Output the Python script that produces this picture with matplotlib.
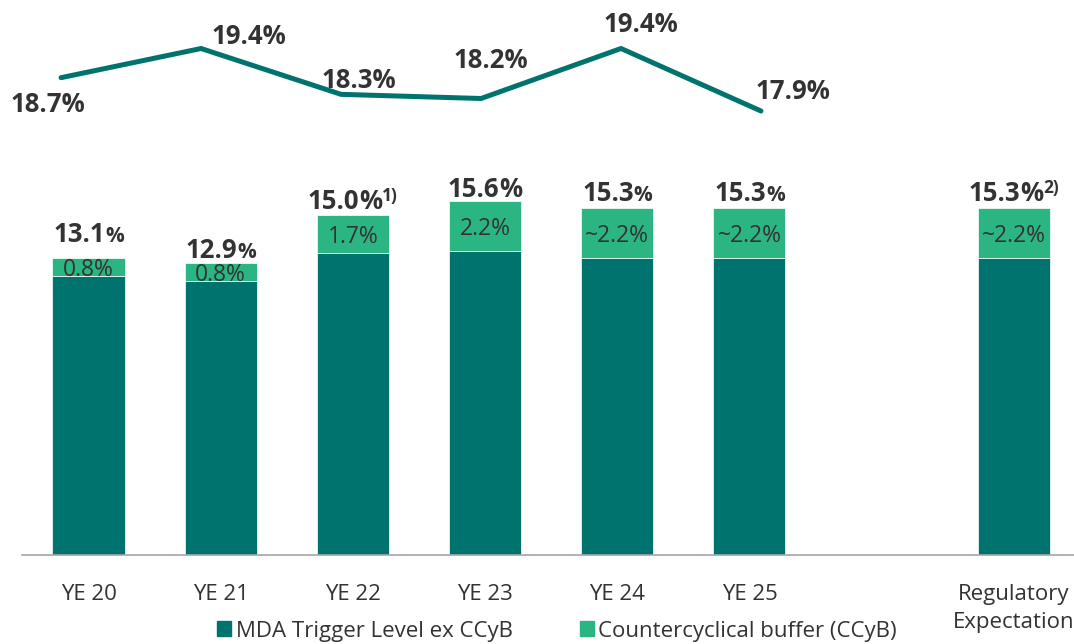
import numpy as np
import matplotlib
matplotlib.use("Agg")
import matplotlib.pyplot as plt
import matplotlib.transforms as mtransforms
from matplotlib.patches import Patch

plt.rcParams['font.family'] = ['Open Sans', 'DejaVu Sans']

# data
categories = ["YE 20", "YE 21", "YE 22", "YE 23", "YE 24", "YE 25", "Regulatory\nExpectation"]
bar_pos = [0, 1, 2, 3, 4, 5, 7]
mda_ex_ccyb = [12.3, 12.1, 13.3, 13.4, 13.1, 13.1, 13.1]
ccyb = [0.8, 0.8, 1.7, 2.2, 2.2, 2.2, 2.2]
ccyb_labels = ["0.8%", "0.8%", "1.7%", "2.2%", "~2.2%", "~2.2%", "~2.2%"]
total_labels = ["13.1", "12.9", "15.0", "15.6", "15.3", "15.3", "15.3"]
small_pct = [True, True, False, False, True, True, False]
footnotes = ["", "", "1)", "", "", "", "2)"]

line_years = ["YE 20", "YE 21", "YE 22", "YE 23", "YE 24", "YE 25"]
line_values = [18.7, 19.4, 18.3, 18.2, 19.4, 17.9]

# colours
teal = "#00736F"
green = "#2BB583"
txt = "#333333"

# label nudges (pixels)
total_pad = [16, 5, 6, 4, 7, 7, 7]
line_offsets = [(-13, -27), (48, 12), (18, 14), (10, 38), (20, 24), (32, 20)]

fig = plt.figure(figsize=(10.74, 6.44), dpi=100)
rect = [22 / 1074, 89 / 644, 1052 / 1074, 555 / 644]
ax = fig.add_axes(rect)

ax.bar(bar_pos, mda_ex_ccyb, width=0.545, color=teal, edgecolor="white", linewidth=0.5)
ax.bar(bar_pos, ccyb, bottom=mda_ex_ccyb, width=0.545, color=green, edgecolor="white", linewidth=0.5)

ax.set_xlim(-0.503, 7.455)
ax.set_ylim(0, 555 / 22.67)
for s in ["top", "right", "left"]:
    ax.spines[s].set_visible(False)
ax.spines["bottom"].set_color("#A6A6A6")
ax.spines["bottom"].set_linewidth(1.2)
ax.set_yticks([])
ax.set_xticks(bar_pos)
ax.set_xticklabels(categories, fontsize=16, color=txt, linespacing=1.45)
ax.tick_params(axis="x", length=0, pad=21)

# labels inside the buffer segment
for x, b, c, lab in zip(bar_pos, mda_ex_ccyb, ccyb, ccyb_labels):
    ax.annotate(lab, (x, b + c / 2), xytext=(0, -3), textcoords="offset pixels",
                ha="center", va="center", fontsize=16.5, color=txt)

# total labels made of pieces (number, %, footnote)
fig.canvas.draw()
renderer = fig.canvas.get_renderer()
for i, x in enumerate(bar_pos):
    top = mda_ex_ccyb[i] + ccyb[i]
    parts = [(total_labels[i], 18.5, 0)]
    parts.append(("%", 15 if small_pct[i] else 18.5, 0))
    if footnotes[i]:
        parts.append((footnotes[i], 12.5, 8))
    texts = []
    for s, size, dy in parts:
        t = ax.text(x, top, s, fontsize=size, fontweight="bold", color=txt,
                    ha="left", va="baseline")
        texts.append((t, dy))
    widths = [t.get_window_extent(renderer).width for t, _ in texts]
    xoff = -sum(widths) / 2
    for (t, dy), w in zip(texts, widths):
        t.set_transform(mtransforms.offset_copy(ax.transData, fig=fig, x=xoff,
                                                y=total_pad[i] + dy, units="dots"))
        xoff += w

# line on its own axes
ax2 = fig.add_axes(rect)
ax2.patch.set_visible(False)
ax2.axis("off")
ax2.set_xlim(-0.279, 7.236)
ax2.set_ylim(7.245, 7.245 + 555 / 41.67)
xs = np.arange(len(line_values))
ax2.plot(xs, line_values, color=teal, lw=3.6, solid_capstyle="round", solid_joinstyle="miter")
for x, v, (dx, dy) in zip(xs, line_values, line_offsets):
    ax2.annotate(f"{v:.1f}%", (x, v), xytext=(dx, dy), textcoords="offset pixels",
                 ha="center", va="center", fontsize=18.5, fontweight="bold", color=txt)

handles = [Patch(color=teal, label="MDA Trigger Level ex CCyB"),
           Patch(color=green, label="Countercyclical buffer (CCyB)")]
fig.legend(handles=handles, loc="center", bbox_to_anchor=(557 / 1074, 13 / 644), ncol=2,
           frameon=False, fontsize=16, handlelength=0.65, handleheight=0.65,
           handletextpad=0.2, columnspacing=3.0, labelcolor=txt, borderpad=0.1)

fig.savefig("out.png", dpi=100)
